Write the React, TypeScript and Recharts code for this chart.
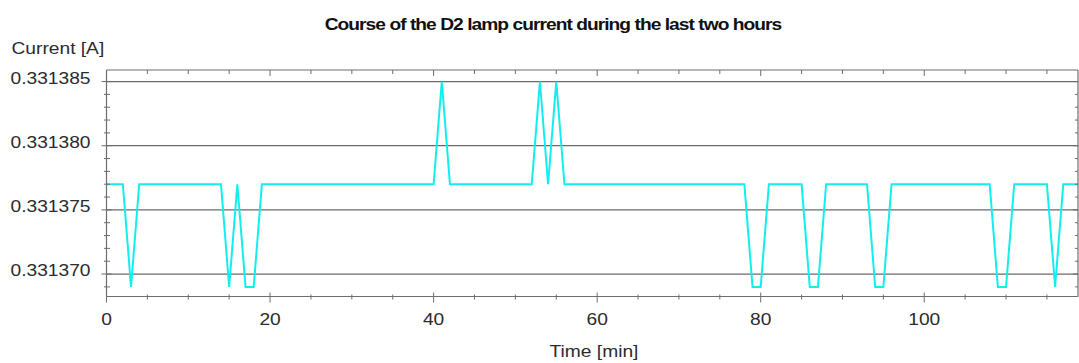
import { LineChart, Line, XAxis, YAxis, CartesianGrid } from "recharts";

// minutes since start of the two hour window
const minutes = [
  0, 1, 2, 3, 4, 5, 6, 7, 8, 9, 10, 11, 12, 13, 14, 15, 16, 17, 18, 19,
  20, 21, 22, 23, 24, 25, 26, 27, 28, 29, 30, 31, 32, 33, 34, 35, 36, 37, 38, 39,
  40, 41, 42, 43, 44, 45, 46, 47, 48, 49, 50, 51, 52, 53, 54, 55, 56, 57, 58, 59,
  60, 61, 62, 63, 64, 65, 66, 67, 68, 69, 70, 71, 72, 73, 74, 75, 76, 77, 78, 79,
  80, 81, 82, 83, 84, 85, 86, 87, 88, 89, 90, 91, 92, 93, 94, 95, 96, 97, 98, 99,
  100, 101, 102, 103, 104, 105, 106, 107, 108, 109, 110, 111, 112, 113, 114, 115, 116, 117, 118, 119
];

// D2 lamp current [A]
const current = [
  0.331377, 0.331377, 0.331377, 0.331369, 0.331377, 0.331377, 0.331377, 0.331377, 0.331377, 0.331377,
  0.331377, 0.331377, 0.331377, 0.331377, 0.331377, 0.331369, 0.331377, 0.331369, 0.331369, 0.331377,
  0.331377, 0.331377, 0.331377, 0.331377, 0.331377, 0.331377, 0.331377, 0.331377, 0.331377, 0.331377,
  0.331377, 0.331377, 0.331377, 0.331377, 0.331377, 0.331377, 0.331377, 0.331377, 0.331377, 0.331377,
  0.331377, 0.331385, 0.331377, 0.331377, 0.331377, 0.331377, 0.331377, 0.331377, 0.331377, 0.331377,
  0.331377, 0.331377, 0.331377, 0.331385, 0.331377, 0.331385, 0.331377, 0.331377, 0.331377, 0.331377,
  0.331377, 0.331377, 0.331377, 0.331377, 0.331377, 0.331377, 0.331377, 0.331377, 0.331377, 0.331377,
  0.331377, 0.331377, 0.331377, 0.331377, 0.331377, 0.331377, 0.331377, 0.331377, 0.331377, 0.331369,
  0.331369, 0.331377, 0.331377, 0.331377, 0.331377, 0.331377, 0.331369, 0.331369, 0.331377, 0.331377,
  0.331377, 0.331377, 0.331377, 0.331377, 0.331369, 0.331369, 0.331377, 0.331377, 0.331377, 0.331377,
  0.331377, 0.331377, 0.331377, 0.331377, 0.331377, 0.331377, 0.331377, 0.331377, 0.331377, 0.331369,
  0.331369, 0.331377, 0.331377, 0.331377, 0.331377, 0.331377, 0.331369, 0.331377, 0.331377, 0.331377
];

const xTicks = [0, 5, 10, 15, 20, 25, 30, 35, 40, 45, 50, 55, 60, 65, 70, 75, 80, 85, 90, 95, 100, 105, 110, 115];
const xLabels = [0, 20, 40, 60, 80, 100];

const yTicks = [
  0.331369, 0.33137, 0.331371, 0.331372, 0.331373, 0.331374, 0.331375, 0.331376, 0.331377,
  0.331378, 0.331379, 0.33138, 0.331381, 0.331382, 0.331383, 0.331384, 0.331385
];
const yLabels = [0.33137, 0.331375, 0.33138, 0.331385];

const data = minutes.map((t, i) => ({ t, current: current[i] }));

const AXIS = "#6e6e6e";
const TEXT = "#2b2b2b";
const FONT = "'Liberation Sans', Arial, sans-serif";

const isXMajor = (v: number) => xLabels.includes(v);
const isYMajor = (v: number) => yLabels.some((l) => Math.abs(l - v) < 1e-9);

const BottomTick = ({ x, y, payload }: any) => {
  const major = isXMajor(payload.value);
  return (
    <g>
      <line x1={x} x2={x} y1={y - (major ? 4 : 2)} y2={y + (major ? 6 : 3)} stroke={AXIS} />
      {major && (
        <text
          transform={`translate(${x},${y + 28.5}) scale(1.2,1)`}
          textAnchor="middle"
          fontSize={16}
          fontFamily={FONT}
          fill={TEXT}
        >
          {payload.value}
        </text>
      )}
    </g>
  );
};

const TopTick = ({ x, y, payload }: any) => (
  <line x1={x} x2={x} y1={y} y2={y + (isXMajor(payload.value) ? 6 : 4)} stroke={AXIS} />
);

const LeftTick = ({ x, y, payload }: any) => {
  const major = isYMajor(payload.value);
  return (
    <g>
      <line x1={x - (major ? 5 : 2.5)} x2={x + (major ? 5 : 3.5)} y1={y} y2={y} stroke={AXIS} />
      {major && (
        <text
          transform={`translate(${x - 16},${y + 2}) scale(1.2,1)`}
          textAnchor="end"
          fontSize={16}
          fontFamily={FONT}
          fill={TEXT}
        >
          {payload.value.toFixed(6)}
        </text>
      )}
    </g>
  );
};

const RightTick = ({ x, y, payload }: any) => (
  <line x1={x} x2={x - (isYMajor(payload.value) ? 5 : 3)} y1={y} y2={y} stroke={AXIS} />
);

const xDomain = [0, 118.8];
const yDomain = [0.33136825, 0.3313859];

export default function App() {
  return (
    <div style={{ position: "absolute", left: 0, top: 0, width: 1079, height: 363, background: "#fff" }}>
      <LineChart
        width={1079}
        height={363}
        data={data}
        margin={{ top: 69, right: 0, bottom: 36.5, left: 0 }}
      >
        <CartesianGrid
          vertical={false}
          horizontalValues={yLabels}
          stroke="#6a6a6a"
          strokeWidth={1.2}
        />
        <XAxis
          dataKey="t"
          type="number"
          domain={xDomain}
          ticks={xTicks}
          interval={0}
          allowDataOverflow
          height={30}
          tickSize={0}
          tickMargin={0}
          tickLine={false}
          axisLine={{ stroke: AXIS, strokeWidth: 1.2 }}
          tick={<BottomTick />}
        />
        <XAxis
          xAxisId="top"
          orientation="top"
          dataKey="t"
          type="number"
          domain={xDomain}
          ticks={xTicks}
          interval={0}
          allowDataOverflow
          height={1}
          tickSize={0}
          tickMargin={0}
          tickLine={false}
          axisLine={{ stroke: AXIS, strokeWidth: 1.2 }}
          tick={<TopTick />}
        />
        <YAxis
          type="number"
          domain={yDomain}
          ticks={yTicks}
          interval={0}
          allowDataOverflow
          width={106.5}
          tickSize={0}
          tickMargin={0}
          tickLine={false}
          axisLine={{ stroke: AXIS, strokeWidth: 1.2 }}
          tick={<LeftTick />}
        />
        <YAxis
          yAxisId="right"
          orientation="right"
          type="number"
          domain={yDomain}
          ticks={yTicks}
          interval={0}
          allowDataOverflow
          width={1}
          tickSize={0}
          tickMargin={0}
          tickLine={false}
          axisLine={{ stroke: AXIS, strokeWidth: 1.2 }}
          tick={<RightTick />}
        />
        <Line
          type="linear"
          dataKey="current"
          stroke="#12eeee"
          strokeWidth={2}
          dot={false}
          isAnimationActive={false}
        />
      </LineChart>
      <svg
        width={1079}
        height={363}
        style={{ position: "absolute", left: 0, top: 0, pointerEvents: "none" }}
      >
        <text
          transform="translate(553,30) scale(1.2,1)"
          textAnchor="middle"
          fontSize={16}
          fontWeight="bold"
          letterSpacing={-0.8}
          fontFamily={FONT}
          fill="#111"
        >
          Course of the D2 lamp current during the last two hours
        </text>
        <text transform="translate(11.5,54) scale(1.2,1)" fontSize={16} fontFamily={FONT} fill={TEXT}>
          Current [A]
        </text>
        <text
          transform="translate(594,356.5) scale(1.2,1)"
          textAnchor="middle"
          fontSize={16}
          fontFamily={FONT}
          fill={TEXT}
        >
          Time [min]
        </text>
      </svg>
    </div>
  );
}
